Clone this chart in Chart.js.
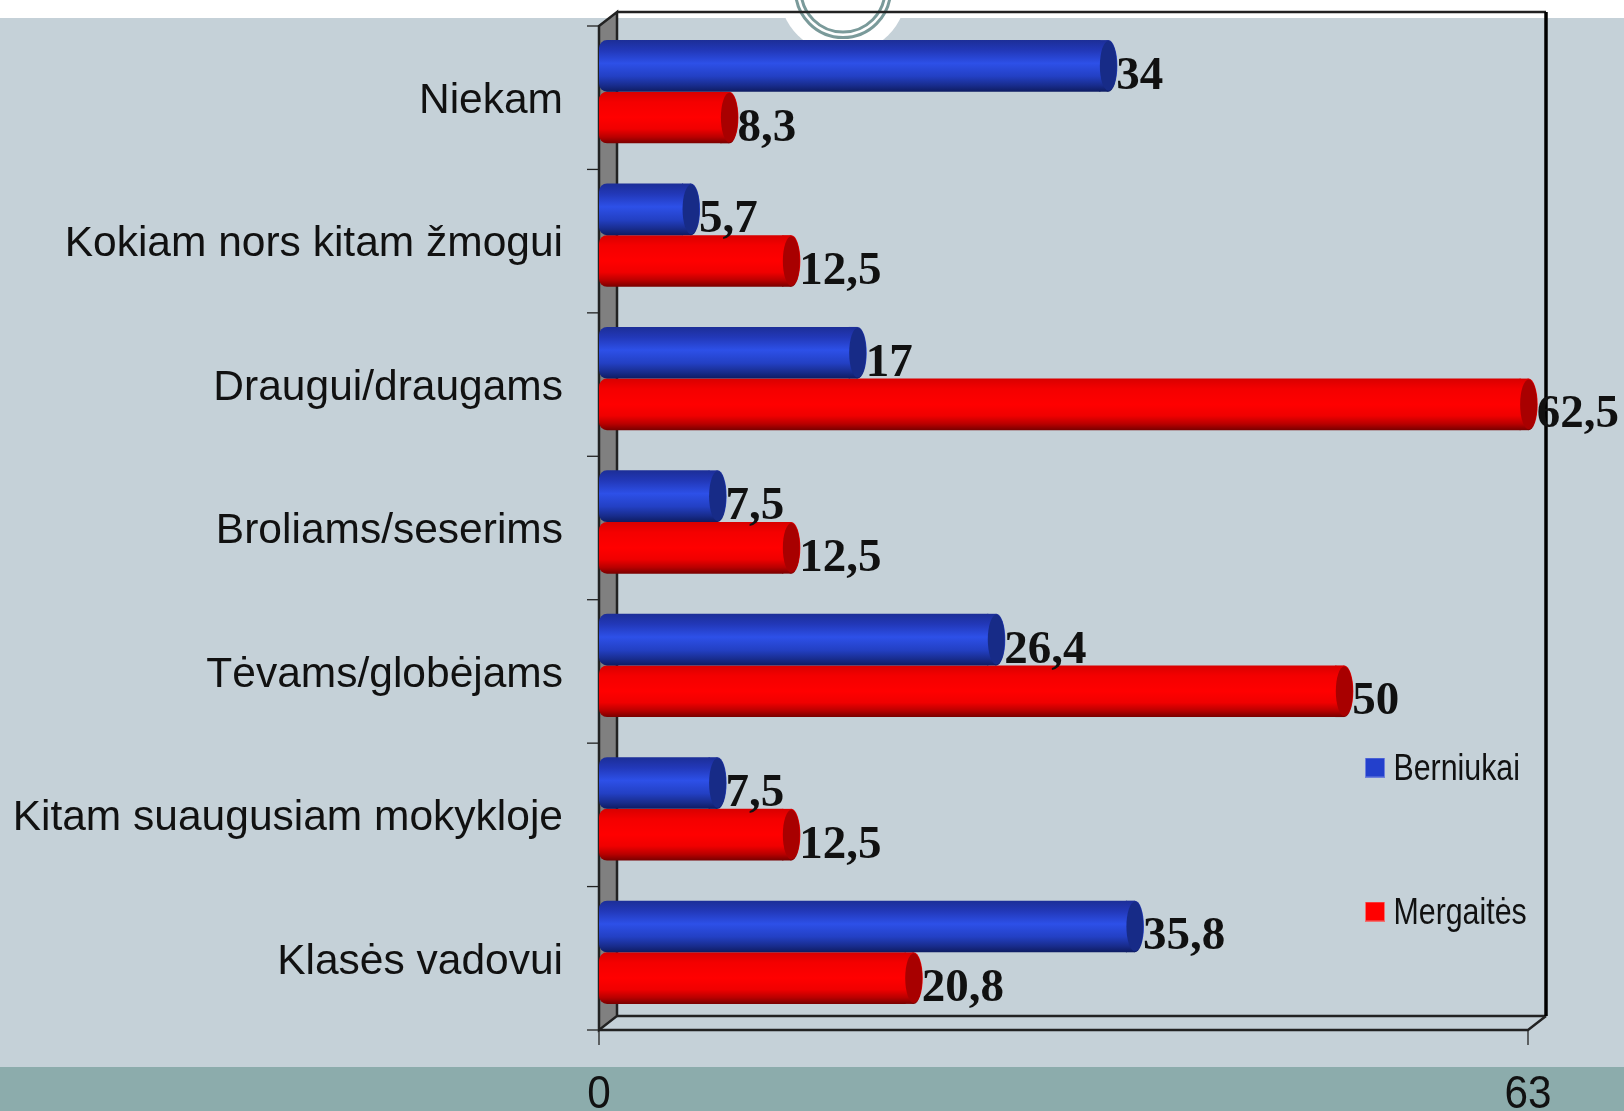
<!DOCTYPE html>
<html><head><meta charset="utf-8">
<style>html,body{margin:0;padding:0;background:#c5d1d8}canvas{display:block}</style>
<script src="https://cdn.jsdelivr.net/npm/chart.js@4/dist/chart.umd.min.js"></script>
</head><body>
<div style="width:1624px;height:1111px"><canvas id="c"></canvas></div>
<script>
const categories = ["Niekam","Kokiam nors kitam žmogui","Draugui/draugams","Broliams/seserims","Tėvams/globėjams","Kitam suaugusiam mokykloje","Klasės vadovui"];
const berniukai = [34,5.7,17,7.5,26.4,7.5,35.8];
const mergaites = [8.3,12.5,62.5,12.5,50,12.5,20.8];
const xTicks = [0,63];
const CAT_PCT = 0.72, DEPTH_X = 18, DEPTH_Y = 14, SHIFT = 6, CAP = 8;
const LEGEND_NARROW = 0.82, X_NARROW = 0.9, X_FONT = 47, LEGEND_FONT = 37;

function swatch(color, edge){
  const s = document.createElement('canvas'); s.width = s.height = 20;
  const g = s.getContext('2d');
  g.fillStyle = edge; g.fillRect(0,0,20,20);
  g.fillStyle = color; g.fillRect(1,1,18,18);
  return s;
}
function cylinder(stops, seriesPos){
  return ctx => {
    const c = ctx.chart, y = c.scales && c.scales.y;
    if (!y || ctx.dataIndex === undefined) return stops[2][1];
    const mid = y.getPixelForValue(ctx.dataIndex), h = y.height / categories.length * CAT_PCT / 2;
    const top = mid - h + seriesPos * h;
    const g = c.ctx.createLinearGradient(0, top, 0, top + h);
    stops.forEach(s => g.addColorStop(s[0], s[1]));
    return g;
  };
}
const blueStops = [[0,'#1c2e97'],[0.2,'#2238b8'],[0.45,'#2d50e8'],[0.7,'#2340c4'],[0.88,'#182c8c'],[1,'#0e1c62']];
const redStops = [[0,'#d80000'],[0.2,'#f40000'],[0.5,'#ff0000'],[0.72,'#f00000'],[0.88,'#b80000'],[1,'#780000']];
const capColors = ['#172b87','#a80000'];

const scene = {
  id:'scene',
  beforeDraw(chart){
    const g = chart.ctx, W = chart.width, H = chart.height;
    g.save();
    g.fillStyle = '#c5d1d8'; g.fillRect(0,0,W,H);
    g.fillStyle = '#ffffff'; g.fillRect(0,0,W,18);
    g.fillStyle = '#8cacac'; g.fillRect(0,1067,W,H-1067);
    g.fillStyle = '#ffffff'; g.beginPath(); g.arc(843,-10,64,0,Math.PI*2); g.fill();
    g.strokeStyle = '#7a9a9a'; g.lineWidth = 3;
    [47.5,42].forEach(r => { g.beginPath(); g.arc(843,-10,r,0,Math.PI*2); g.stroke(); });
    const x = chart.scales.x, y = chart.scales.y;
    const x0 = x.getPixelForValue(xTicks[0]), x1 = x.getPixelForValue(xTicks[1]);
    const top = y.top + SHIFT, bot = y.bottom + SHIFT;
    g.fillStyle = '#808080'; g.strokeStyle = '#222'; g.lineWidth = 2.5;
    g.beginPath(); g.moveTo(x0,top); g.lineTo(x0+DEPTH_X,top-DEPTH_Y); g.lineTo(x0+DEPTH_X,bot-DEPTH_Y); g.lineTo(x0,bot); g.closePath(); g.fill(); g.stroke();
    g.strokeStyle = '#222';
    g.beginPath(); g.moveTo(x0+DEPTH_X,top-DEPTH_Y); g.lineTo(x1+DEPTH_X,top-DEPTH_Y); g.stroke();
    g.beginPath(); g.moveTo(x0+DEPTH_X,bot-DEPTH_Y); g.lineTo(x1+DEPTH_X,bot-DEPTH_Y); g.stroke();
    g.beginPath(); g.moveTo(x0,bot); g.lineTo(x1,bot); g.lineTo(x1+DEPTH_X,bot-DEPTH_Y); g.stroke();
    g.lineWidth = 3.5; g.strokeStyle = '#000';
    g.beginPath(); g.moveTo(x1+DEPTH_X,top-DEPTH_Y); g.lineTo(x1+DEPTH_X,bot-DEPTH_Y); g.stroke();
    g.lineWidth = 1.3; g.strokeStyle = '#222';
    xTicks.forEach(v => { const p = x.getPixelForValue(v); g.beginPath(); g.moveTo(p,bot); g.lineTo(p,bot+15); g.stroke(); });
    for (let i = 0; i <= categories.length; i++) {
      const p = y.top + SHIFT + i * y.height / categories.length;
      g.beginPath(); g.moveTo(x0-12,p); g.lineTo(x0,p); g.stroke();
    }
    g.restore();
    const lg = chart.legend;
    if (lg) { lg.left = 1373 - lg.options.labels.padding; lg.right = W; lg.top = 749 - lg.options.labels.padding; lg.bottom = lg.top + 400; }
  },
  afterDatasetDraw(chart, args){
    const g = chart.ctx;
    g.save();
    args.meta.data.forEach(el => {
      const h = el.height, cx = el.x + CAP;
      g.fillStyle = el.options.backgroundColor;
      g.fillRect(el.x - 1, el.y - h/2, CAP + 1, h);
      g.beginPath(); g.ellipse(cx, el.y, CAP + 1, h/2, 0, 0, Math.PI*2); g.fill();
      g.fillStyle = capColors[args.index];
      g.beginPath(); g.ellipse(cx, el.y, CAP + 0.5, h/2 - 1, 0, 0, Math.PI*2); g.fill();
    });
    g.restore();
  },
  afterDatasetsDraw(chart){
    const g = chart.ctx;
    g.save();
    g.fillStyle = '#111';
    g.font = 'bold 47px "Liberation Serif"';
    g.textAlign = 'left'; g.textBaseline = 'alphabetic';
    chart.data.datasets.forEach((ds, di) => {
      chart.getDatasetMeta(di).data.forEach((el, i) => {
        g.fillText(String(ds.data[i]).replace('.', ','), el.x + CAP + 8, el.y + 23);
      });
    });
    g.restore();
  }
};

const canvas = document.getElementById('c');
const ctx2d = canvas.getContext('2d');
// The reference's axis and legend text is a condensed Arial: squeeze it horizontally.
const plainFillText = ctx2d.fillText.bind(ctx2d);
ctx2d.fillText = function(text, x, y, maxWidth){
  const f = ctx2d.font;
  const w = ctx2d.measureText(text).width;
  if (f.includes(LEGEND_FONT + 'px')) {
    plainFillText(text, x - 2, y + 2, w * LEGEND_NARROW);
  } else if (f.includes(X_FONT + 'px') && !f.includes('bold')) {
    plainFillText(text, x, y, w * X_NARROW);
  } else if (maxWidth !== undefined) plainFillText(text, x, y, maxWidth);
  else plainFillText(text, x, y);
};

new Chart(canvas, {
  type:'bar',
  plugins:[scene],
  data:{
    labels:categories,
    datasets:[
      {label:'Berniukai', data:berniukai, backgroundColor:cylinder(blueStops,0), legendColor:'#2340cc', legendEdge:'#6d80dc'},
      {label:'Mergaitės', data:mergaites, backgroundColor:cylinder(redStops,1), legendColor:'#ff0000', legendEdge:'#f07070'}
    ]
  },
  options:{
    indexAxis:'y',
    responsive:true, maintainAspectRatio:false, animation:false,
    devicePixelRatio:1,
    layout:{padding:{left:0,right:96,top:20,bottom:0}},
    datasets:{bar:{categoryPercentage:CAT_PCT, barPercentage:1, borderWidth:0, borderSkipped:false,
      borderRadius:{topLeft:8,bottomLeft:8,topRight:0,bottomRight:0}}},
    scales:{
      x:{min:xTicks[0], max:xTicks[1], grid:{display:false}, border:{display:false},
        afterBuildTicks(s){ s.ticks = xTicks.map(v => ({value:v})); },
        afterFit(s){ s.height = 87; s.paddingLeft = 0; s.paddingRight = 0; s.paddingTop = 0; s.paddingBottom = 0; },
        ticks:{autoSkip:false, maxRotation:0, color:'#111', padding:35, font:{family:'"Liberation Sans"', size:X_FONT}}},
      y:{grid:{display:false}, border:{display:false},
        afterFit(s){ s.width = 599; s.paddingTop = 0; s.paddingBottom = 0; s.paddingLeft = 0; s.paddingRight = 0; },
        ticks:{autoSkip:false, color:'#111', padding:28, labelOffset:SHIFT + 3.5, font:{family:'"Liberation Sans"', size:42.5}}}
    },
    plugins:{
      tooltip:{enabled:false},
      legend:{
        position:'chartArea', align:'start',
        labels:{
          usePointStyle:true, pointStyleWidth:4, boxHeight:20, padding:107,
          color:'#111', font:{family:'"Liberation Sans"', size:LEGEND_FONT},
          generateLabels(chart){
            return chart.data.datasets.map((d,i) => ({
              text:d.label, datasetIndex:i, fontColor:'#111',
              fillStyle:d.legendColor, strokeStyle:d.legendEdge, lineWidth:0,
              pointStyle:swatch(d.legendColor,d.legendEdge)
            }));
          }
        }
      }
    }
  }
});
</script>
</body></html>
